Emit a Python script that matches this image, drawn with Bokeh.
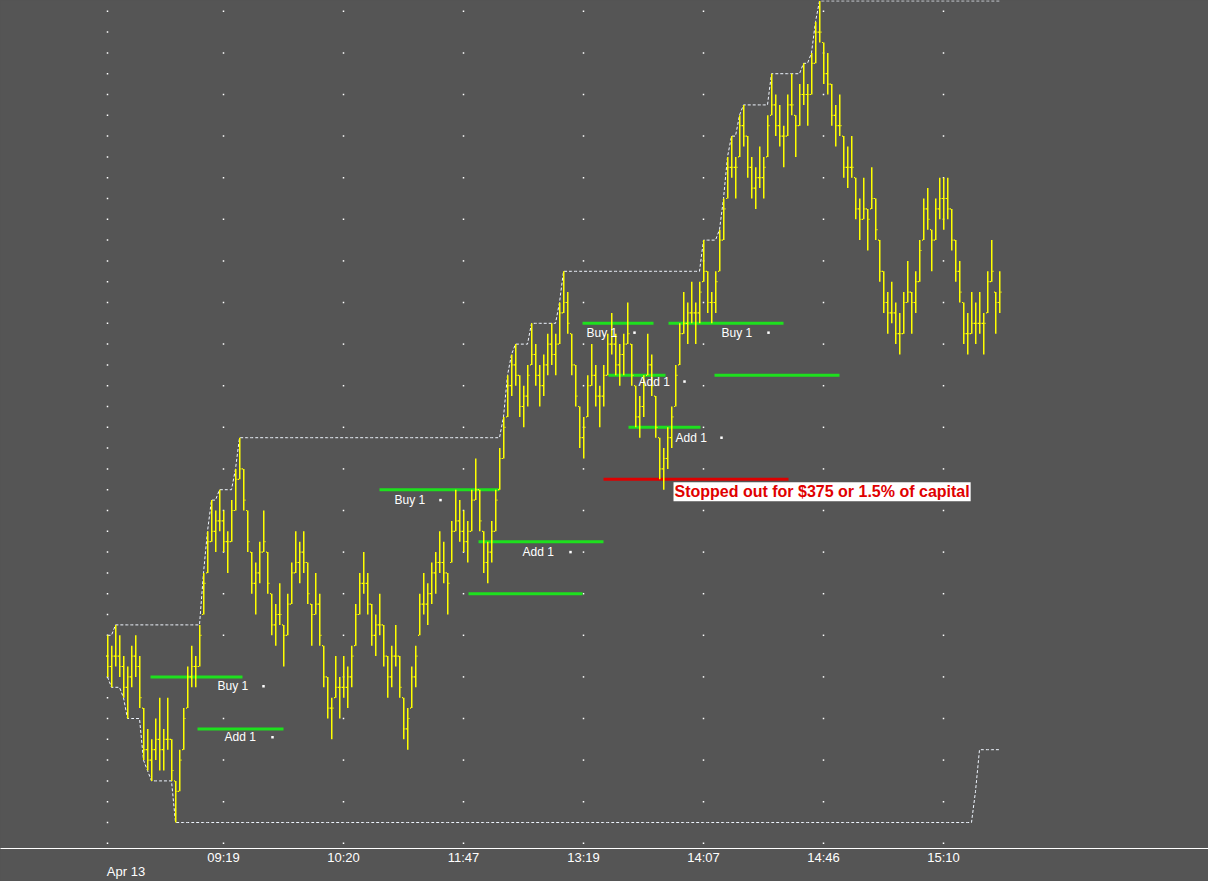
import numpy as np
import pandas as pd
from bokeh.plotting import figure
from bokeh.models import Range1d, LinearAxis, FixedTicker, Label
from bokeh.embed import file_html
from bokeh.resources import INLINE
from bokeh.core.properties import value

# ---- price bars, in ticks above the session low ----
high = [18, 17, 19, 18, 16, 15, 17, 18, 16, 11,
        9, 8, 10, 12, 9, 12, 8, 4, 7, 11,
        15, 17, 16, 19, 24, 28, 31, 30, 32, 30,
        28, 31, 34, 37, 34, 30, 26, 25, 27, 30,
        26, 22, 21, 23, 19, 22, 25, 28, 27, 28,
        25, 21, 24, 22, 17, 14, 12, 16, 14, 16,
        15, 17, 21, 24, 26, 24, 21, 20, 22, 19,
        16, 17, 19, 16, 12, 11, 15, 17, 22, 24,
        23, 25, 26, 28, 27, 24, 29, 32, 31, 30,
        29, 32, 35, 32, 28, 27, 29, 32, 36, 39,
        43, 45, 46, 43, 42, 44, 48, 46, 44, 45,
        47, 48, 47, 50, 53, 51, 47, 44, 40, 39,
        43, 46, 44, 42, 44, 47, 49, 47, 46, 47,
        50, 46, 42, 41, 43, 47, 45, 41, 37, 36,
        38, 40, 44, 48, 51, 50, 52, 50, 52, 56,
        53, 51, 53, 57, 60, 64, 66, 64, 68, 69,
        66, 64, 63, 65, 64, 68, 72, 70, 69, 67,
        70, 72, 68, 71, 73, 71, 74, 77, 79, 75,
        74, 71, 69, 70, 66, 65, 66, 62, 60, 62,
        59, 63, 60, 56, 53, 51, 52, 50, 49, 51,
        54, 51, 53, 56, 60, 61, 57, 60, 62, 62,
        62, 59, 56, 54, 50, 49, 51, 50, 51, 49,
        53, 56, 51, 53]

low = [14, 13, 15, 14, 12, 10, 13, 14, 11, 6,
       5, 4, 6, 5, 5, 7, 4, 0, 3, 7,
       11, 13, 13, 15, 20, 24, 27, 26, 28, 26,
       24, 27, 30, 33, 30, 26, 22, 20, 23, 26,
       22, 18, 17, 19, 15, 18, 21, 24, 23, 24,
       21, 17, 20, 17, 13, 10, 8, 12, 10, 12,
       11, 13, 17, 20, 22, 20, 17, 16, 18, 15,
       12, 13, 15, 12, 8, 7, 11, 13, 18, 20,
       19, 21, 22, 24, 23, 20, 25, 28, 27, 26,
       25, 28, 31, 28, 24, 23, 25, 28, 32, 35,
       39, 41, 42, 39, 38, 40, 44, 42, 40, 41,
       43, 44, 43, 46, 49, 47, 43, 40, 36, 35,
       39, 42, 40, 38, 40, 43, 45, 43, 42, 43,
       46, 42, 38, 37, 39, 43, 41, 37, 33, 32,
       34, 36, 40, 44, 47, 46, 48, 46, 48, 52,
       49, 48, 49, 53, 56, 60, 62, 60, 64, 65,
       62, 60, 59, 61, 60, 64, 68, 66, 65, 63,
       66, 68, 64, 67, 69, 67, 70, 73, 75, 71,
       70, 67, 65, 66, 62, 61, 62, 58, 56, 58,
       55, 59, 56, 52, 49, 47, 48, 46, 45, 47,
       50, 47, 49, 52, 56, 57, 53, 56, 58, 57,
       58, 55, 52, 50, 46, 45, 47, 46, 47, 45,
       49, 52, 47, 49]

open_ = [16, 15, 16, 16, 15, 13, 14, 16, 15, 11,
         7, 6, 7, 8, 7, 8, 8, 4, 3, 7,
         11, 14, 15, 15, 20, 24, 27, 28, 29, 29,
         27, 27, 30, 33, 34, 30, 26, 23, 24, 26,
         26, 22, 19, 20, 19, 18, 21, 24, 25, 26,
         25, 21, 20, 21, 17, 14, 11, 12, 13, 13,
         13, 14, 17, 20, 23, 23, 21, 18, 19, 19,
         16, 14, 16, 16, 12, 9, 11, 14, 18, 21,
         21, 22, 24, 25, 25, 24, 25, 28, 29, 28,
         27, 28, 31, 32, 28, 25, 26, 28, 32, 35,
         39, 42, 44, 43, 40, 41, 44, 45, 43, 42,
         44, 46, 45, 46, 49, 50, 47, 44, 40, 37,
         39, 42, 43, 41, 41, 43, 46, 46, 44, 45,
         46, 46, 42, 39, 40, 43, 44, 41, 37, 34,
         35, 37, 40, 44, 47, 48, 49, 49, 49, 52,
         53, 50, 50, 53, 56, 60, 63, 63, 64, 67,
         66, 63, 61, 62, 62, 64, 68, 69, 67, 66,
         66, 69, 68, 67, 70, 70, 70, 73, 76, 75,
         72, 71, 68, 67, 66, 63, 63, 62, 59, 58,
         59, 59, 60, 56, 53, 50, 49, 49, 47, 47,
         50, 51, 50, 52, 56, 59, 57, 56, 59, 60,
         60, 59, 56, 53, 50, 47, 47, 48, 48, 48,
         49, 52, 51, 50]

close = [15, 16, 16, 15, 13, 14, 16, 15, 12, 7,
         6, 7, 8, 7, 8, 8, 5, 3, 6, 10,
         14, 15, 15, 18, 23, 27, 28, 29, 29, 27,
         27, 30, 33, 34, 31, 27, 23, 24, 26, 27,
         23, 19, 20, 20, 18, 21, 24, 25, 26, 25,
         22, 20, 21, 18, 14, 11, 11, 13, 13, 13,
         14, 16, 20, 23, 23, 21, 18, 19, 19, 16,
         14, 16, 16, 13, 9, 10, 14, 16, 21, 21,
         22, 24, 25, 25, 24, 23, 28, 29, 28, 27,
         28, 31, 32, 29, 25, 26, 28, 31, 35, 38,
         42, 44, 43, 40, 41, 43, 45, 43, 42, 44,
         46, 45, 46, 49, 50, 48, 44, 41, 37, 38,
         42, 43, 41, 41, 43, 46, 46, 44, 45, 46,
         47, 43, 39, 40, 42, 44, 42, 38, 34, 35,
         37, 39, 43, 47, 48, 49, 49, 49, 51, 53,
         50, 50, 52, 56, 59, 63, 63, 63, 67, 66,
         63, 61, 62, 62, 63, 67, 69, 67, 66, 66,
         69, 69, 67, 70, 70, 70, 73, 76, 76, 72,
         71, 68, 67, 67, 63, 63, 63, 59, 58, 59,
         58, 60, 57, 53, 50, 49, 49, 47, 47, 50,
         51, 50, 52, 55, 59, 58, 56, 59, 60, 60,
         59, 56, 53, 51, 47, 47, 48, 48, 48, 48,
         52, 53, 50, 51]

# ---- time axis ----
time_tick_bars = [0, 29, 59, 89, 119, 149, 179, 209]
time_tick_labels = ["", "09:19", "10:20", "11:47", "13:19", "14:07", "14:46", "15:10"]
date_label = "Apr 13"

# ---- channel (highest high / lowest low) look-back, bars ----
channel_window = 200

# ---- trade levels (ticks) and the bars they span ----
trade_start = [10.75, 22.5, 68, 92.75, 90.25, 118.75, 125.25, 130.25, 140.25, 151.75]
trade_end = [33.75, 44, 98, 124, 118.75, 136.5, 139.5, 148.25, 169, 183]
trade_level = [14, 9, 32, 27, 22, 48, 43, 38, 48, 43]

label_text = ["Buy 1", "Add 1", "Buy 1", "Add 1", "Buy 1", "Add 1", "Add 1", "Buy 1"]
label_bar = [27.5, 29.25, 71.75, 103.75, 119.75, 132.75, 142, 153.5]
label_level = [13.1, 8.2, 31, 26, 47.1, 42.4, 37, 47.1]
fill_bar = [39, 41.25, 83.25, 115.75, 131.75, 144.25, 153.5, 165.25]

stop_start, stop_end, stop_level = 124, 170.25, 33
stop_text = "Stopped out for $375 or 1.5% of capital"
stop_label_bar, stop_label_level = 141.5, 31.8

# ---------------------------------------------------------------------------
FONT = "Liberation Sans"
BG = "#555555"
YELLOW = "#ffff00"
GREEN = "#1ee01e"
RED = "#dd0000"

BAR_PX = 4.0              # screen pixels per bar
PX_X = 1.0 / BAR_PX       # one pixel in bar units
Y0, Y1 = -2.5, 79.04
PX_Y = (Y1 - Y0) / 848.0  # one pixel in tick units (frame height ~848)

n = len(high)
bar = np.arange(n)
hi = np.array(high, dtype=float)
lo = np.array(low, dtype=float)
op = np.array(open_, dtype=float)
cl = np.array(close, dtype=float)
upper = pd.Series(high).rolling(channel_window, min_periods=1).max().to_numpy()
lower = pd.Series(low).rolling(channel_window, min_periods=1).min().to_numpy()

p = figure(width=1208, height=881, output_backend="svg", toolbar_location=None,
           x_range=Range1d(-26.75, 275.25), y_range=Range1d(Y0, Y1),
           y_axis_location=None, min_border=0, min_border_left=0, min_border_right=0,
           min_border_top=0, min_border_bottom=0,
           background_fill_color=BG, border_fill_color=BG, outline_line_color=None,
           styles={"background-color": BG})
p.xgrid.visible = False
p.ygrid.visible = False

xa = p.xaxis[0]
xa.ticker = FixedTicker(ticks=time_tick_bars)
xa.major_label_overrides = {t: s for t, s in zip(time_tick_bars, time_tick_labels)}
xa.axis_line_color = "white"
xa.axis_line_width = 1
xa.major_tick_line_color = None
xa.major_tick_out = 0
xa.major_tick_in = 0
xa.minor_tick_line_color = None
xa.major_label_text_color = "white"
xa.major_label_text_font = FONT
xa.major_label_text_font_size = "13px"
xa.major_label_standoff = 1

date_bar = 4.625
ax2 = LinearAxis(ticker=FixedTicker(ticks=[date_bar]),
                 major_label_overrides={date_bar: date_label},
                 axis_line_color=None, major_tick_line_color=None,
                 minor_tick_line_color=None, major_tick_out=0, major_tick_in=0,
                 major_label_standoff=-4, major_label_text_color="white",
                 major_label_text_font=FONT, major_label_text_font_size="13px")
p.add_layout(ax2, "below")

# dotted grid: dots on the time verticals
gx, gy = [], []
for t in time_tick_bars:
    step = 2 if t == time_tick_bars[0] else 4
    for lv in np.arange(-2, 80, step):
        gx.append(t)
        gy.append(lv)
p.scatter(gx, gy, marker="square", size=1.5, fill_color="white", line_color=None)

# channel lines
p.line(bar, upper, line_color="#f0f6ff", line_width=1, line_dash="3 2")
p.line(bar, lower, line_color="#f0f6ff", line_width=1, line_dash="3 2")

# trade lines
p.segment(x0=trade_start, y0=trade_level, x1=trade_end, y1=trade_level,
          line_color=GREEN, line_width=3)
p.segment(x0=[stop_start], y0=[stop_level], x1=[stop_end], y1=[stop_level],
          line_color=RED, line_width=3)

# OHLC bars drawn as thin filled quads (high-low stem, open tick left, close tick right)
p.quad(left=bar - 0.5 * PX_X, right=bar + 1.0 * PX_X, bottom=lo, top=hi,
       fill_color=YELLOW, line_color=None)
p.quad(left=bar - 1.5 * PX_X, right=bar - 0.5 * PX_X,
       bottom=op - 0.6 * PX_Y, top=op + 0.6 * PX_Y,
       fill_color=YELLOW, line_color=None)
p.quad(left=bar + 1.0 * PX_X, right=bar + 2.0 * PX_X,
       bottom=cl - 0.6 * PX_Y, top=cl + 0.6 * PX_Y,
       fill_color=YELLOW, line_color=None)

# trade labels and fill marks
p.text(x=label_bar, y=label_level, text=label_text, text_color="white",
       text_font=value(FONT), text_font_size="12px",
       text_baseline="middle", text_align="left")
p.scatter(fill_bar, label_level, marker="square", size=2.5,
          fill_color="white", line_color=None)

p.add_layout(Label(x=stop_label_bar, y=stop_label_level, text=stop_text,
                   text_color="#e00000", text_font=FONT, text_font_style="bold",
                   text_font_size="16px", text_baseline="middle", text_align="left",
                   background_fill_color="white", padding=1))

open("out.html", "w").write(file_html(p, INLINE))
